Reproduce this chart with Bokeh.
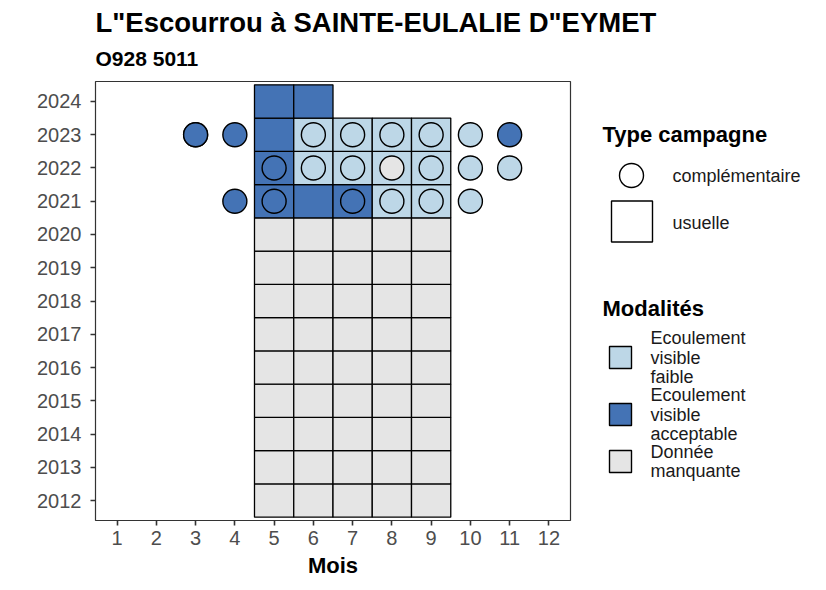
from bokeh.plotting import figure
from bokeh.layouts import column, row
from bokeh.models import Range1d, FixedTicker, ColumnDataSource
from bokeh.embed import file_html
from bokeh.resources import INLINE
from bokeh.core.properties import value

# ---------------- data ----------------
title_text = 'L"Escourrou à SAINTE-EULALIE D"EYMET'
subtitle_text = "O928 5011"
x_label = "Mois"
month_ticks = list(range(1, 13))
year_ticks = list(range(2012, 2025))

modalities = ["Ecoulement visible faible", "Ecoulement visible acceptable", "Donnée manquante"]
modality_lines = [["Ecoulement", "visible", "faible"],
                  ["Ecoulement", "visible", "acceptable"],
                  ["Donnée", "manquante"]]
modality_colors = ["#BDD7E7", "#4473B5", "#E5E5E5"]
campaign_types = ["complémentaire", "usuelle"]
legend_title_type = "Type campagne"
legend_title_mod = "Modalités"

FAI, ACC, MAN = modalities

# usual campaigns (tiles)
usual_months = [5, 6, 7, 8, 9]
missing_years = list(range(2012, 2021))
u_year = [2021] * 5 + [2022] * 5 + [2023] * 5 + [2024] * 2
u_month = [5, 6, 7, 8, 9, 5, 6, 7, 8, 9, 5, 6, 7, 8, 9, 5, 6]
u_mod = [ACC, ACC, ACC, FAI, FAI,
         ACC, FAI, FAI, FAI, FAI,
         ACC, FAI, FAI, FAI, FAI,
         ACC, ACC]

# complementary campaigns (circles)
c_year = [2021] * 6 + [2022] * 7 + [2023] * 9
c_month = [4, 5, 7, 8, 9, 10,
           5, 6, 7, 8, 9, 10, 11,
           3, 3, 4, 6, 7, 8, 9, 10, 11]
c_mod = [ACC, ACC, ACC, FAI, FAI, FAI,
         ACC, FAI, FAI, MAN, FAI, FAI, FAI,
         ACC, ACC, ACC, FAI, FAI, FAI, FAI, FAI, ACC]

color_of = dict(zip(modalities, modality_colors))

t_year = [y for y in missing_years for m in usual_months] + u_year
t_month = [m for y in missing_years for m in usual_months] + u_month
t_mod = [MAN for y in missing_years for m in usual_months] + u_mod
tiles = ColumnDataSource(dict(year=t_year, month=t_month, mod=t_mod,
                              color=[color_of[m] for m in t_mod]))
comp = ColumnDataSource(dict(year=c_year, month=c_month, mod=c_mod,
                             color=[color_of[m] for m in c_mod]))

FONT = "Liberation Sans"

# ---------------- header ----------------
head = figure(width=826, height=75, x_range=Range1d(0, 826), y_range=Range1d(75, 0),
              x_axis_location=None, y_axis_location=None, min_border=0,
              output_backend="svg", toolbar_location=None, title=None)
head.frame_align = False
head.grid.visible = False
head.outline_line_color = None
head.text(x=[95], y=[21.5], text=[title_text], text_font=value(FONT), text_font_style="bold",
          text_font_size="27.5px", text_baseline="middle", text_align="left", text_color="black")
head.text(x=[95], y=[57.5], text=[subtitle_text], text_font=value(FONT), text_font_style="bold",
          text_font_size="21px", text_baseline="middle", text_align="left", text_color="black")

# ---------------- main panel ----------------
p = figure(frame_width=475, frame_height=439,
           x_range=Range1d(0.45, 12.55), y_range=Range1d(2011.4, 2024.6),
           min_border_left=95, min_border_right=10, min_border_top=6, min_border_bottom=70,
           output_backend="svg", toolbar_location=None, title=None)
p.frame_align = False
p.grid.visible = False
p.outline_line_color = "#333333"
p.outline_line_width = 1.2
p.background_fill_color = "white"

p.rect(x="month", y="year", width=1, height=1, source=tiles,
       fill_color="color", line_color="black", line_width=1.3)
p.scatter(x="month", y="year", source=comp, marker="circle", size=24,
          fill_color="color", line_color="black", line_width=1.4)

p.xaxis.ticker = FixedTicker(ticks=month_ticks)
p.yaxis.ticker = FixedTicker(ticks=year_ticks)
for ax in (p.xaxis[0], p.yaxis[0]):
    ax.axis_line_color = None
    ax.major_tick_in = 0
    ax.major_tick_out = 5
    ax.major_tick_line_color = "#333333"
    ax.major_tick_line_width = 1.6
    ax.minor_tick_line_color = None
    ax.major_label_text_font = FONT
    ax.major_label_text_font_size = "20px"
    ax.major_label_text_color = "#4D4D4D"
p.xaxis.major_label_standoff = 5
p.yaxis.major_label_standoff = 9
p.xaxis.axis_label = x_label
p.xaxis.axis_label_text_font = FONT
p.xaxis.axis_label_text_font_size = "22px"
p.xaxis.axis_label_text_font_style = "bold"
p.xaxis.axis_label_text_color = "black"
p.xaxis.axis_label_standoff = 5

# ---------------- legend side ----------------
side = figure(width=246, height=515, x_range=Range1d(580, 826), y_range=Range1d(590, 75),
              x_axis_location=None, y_axis_location=None, min_border=0,
              output_backend="svg", toolbar_location=None, title=None)
side.frame_align = False
side.grid.visible = False
side.outline_line_color = None

side.text(x=[602], y=[134], text=[legend_title_type], text_font=value(FONT), text_font_style="bold",
          text_font_size="22px", text_baseline="middle")
side.scatter(x=[631], y=[175], marker="circle", size=24, fill_color="white",
             line_color="black", line_width=1.4)
side.rect(x=[631.5], y=[221], width=41, height=41, fill_color="white",
          line_color="black", line_width=1.4)
side.text(x=[672, 672], y=[175, 222], text=campaign_types, text_font=value(FONT),
          text_font_size="18px", text_baseline="middle", text_color="#1A1A1A")

side.text(x=[602], y=[307.5], text=[legend_title_mod], text_font=value(FONT), text_font_style="bold",
          text_font_size="22px", text_baseline="middle")
key_y = [357, 414, 461]
side.rect(x=[620] * 3, y=key_y, width=22, height=22, fill_color=modality_colors,
          line_color="black", line_width=1.4)
lx, ly, lt = [], [], []
for cy, lines in zip(key_y, modality_lines):
    n = len(lines)
    for i, s in enumerate(lines):
        lx.append(650)
        ly.append(cy - (n - 1) / 2 * 19.3 + i * 19.3)
        lt.append(s)
side.text(x=lx, y=ly, text=lt, text_font=value(FONT), text_font_size="18px",
          text_baseline="middle", text_color="#1A1A1A")

layout = column(head, row(p, side))
open("out.html", "w").write(file_html(layout, INLINE))
